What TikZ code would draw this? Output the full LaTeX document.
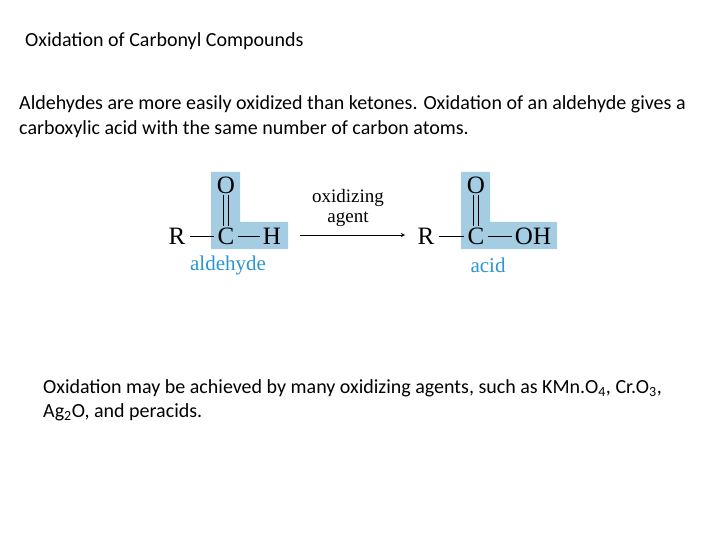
\documentclass[tikz,border=0pt]{standalone}
\usepackage{fontspec}
\setmainfont{Carlito}
\newfontfamily\chem{Liberation Serif}
\definecolor{hl}{RGB}{164,205,228}
\definecolor{lab}{RGB}{40,150,210}
\begin{document}
\begin{tikzpicture}[x=1pt,y=-1pt,
  txt/.style={anchor=base west,inner sep=0pt,font=\fontsize{20}{24}\selectfont},
  atm/.style={inner sep=0pt,font=\chem\fontsize{25}{25}\selectfont},
  lb/.style={inner sep=0pt,font=\chem\fontsize{21}{21}\selectfont,text=lab},
  sm/.style={inner sep=0pt,font=\chem\fontsize{19}{19}\selectfont},
  bond/.style={line width=0.9pt}]
\useasboundingbox (0,0) rectangle (720,540);
\node[txt] (title) at (25,47) {Oxidation of Carbonyl Compounds};
\node[txt] (p1) at (19,110) {Aldehydes are more easily oxidized than ketones. Oxidation of an aldehyde gives a};
\node[txt] (p2) at (19,135) {carboxylic acid with the same number of carbon atoms.};
\node[txt] (q1) at (43,393) {Oxidation may be achieved by many oxidizing agents, such as KMn.O\textsubscript{4}, Cr.O\textsubscript{3},};
\node[txt] (q2) at (43,417) {Ag\textsubscript{2}O, and peracids.};
% highlights
\fill[hl] (211,172) -- (240,172) -- (240,222) -- (288,222) -- (288,249) -- (211,249) -- cycle;
\fill[hl] (461,172) -- (490,172) -- (490,222) -- (557,222) -- (557,249) -- (461,249) -- cycle;
% aldehyde
\node[atm] (r1) at (177,236) {R};
\node[atm] (c1) at (226,236) {C};
\node[atm] (h1) at (272,236) {H};
\node[atm] (o1) at (226,185) {O};
\draw[bond] ([xshift=4]r1.east) -- ([xshift=-3]c1.west);
\draw[bond] ([xshift=3]c1.east) -- ([xshift=-3]h1.west);
\draw[bond] ([xshift=-2.2,yshift=-1]o1.south) -- ([xshift=-2.2,yshift=1]c1.north);
\draw[bond] ([xshift=2.2,yshift=-1]o1.south) -- ([xshift=2.2,yshift=1]c1.north);
\node[lb] (l1) at (228,265) {aldehyde};
% arrow
\coordinate (a1) at (300,235);
\coordinate (a2) at (405,235);
\draw[bond,-stealth] (a1) -- (a2);
\node[sm] (ox) at (348,198) {oxidizing};
\node[sm] (ag) at (348,219) {agent};
% acid
\node[atm] (r2) at (426,236) {R};
\node[atm] (c2) at (476,236) {C};
\node[atm] (oh) at (533,236) {OH};
\node[atm] (o2) at (476,185) {O};
\draw[bond] ([xshift=4]r2.east) -- ([xshift=-3]c2.west);
\draw[bond] ([xshift=3]c2.east) -- ([xshift=-3]oh.west);
\draw[bond] ([xshift=-2.2,yshift=-1]o2.south) -- ([xshift=-2.2,yshift=1]c2.north);
\draw[bond] ([xshift=2.2,yshift=-1]o2.south) -- ([xshift=2.2,yshift=1]c2.north);
\node[lb] (l2) at (488,265) {acid};
\end{tikzpicture}
\end{document}
